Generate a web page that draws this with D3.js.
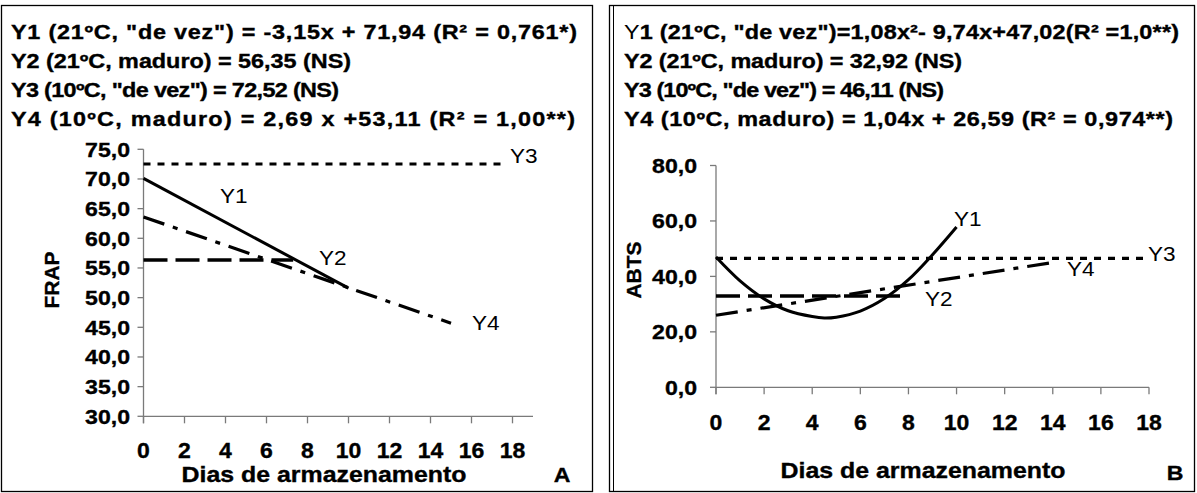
<!DOCTYPE html>
<html><head><meta charset="utf-8">
<script src="https://cdn.jsdelivr.net/npm/d3@7"></script>
<style>
html,body{margin:0;padding:0;background:#fff;}
svg{display:block;font-family:"Liberation Sans",Arial,sans-serif;}
</style></head>
<body>
<svg id="c" width="1197" height="493"></svg>
<script>
// ---------- data ----------
const xTicks = [0,2,4,6,8,10,12,14,16,18];
const frapTicks = [30,35,40,45,50,55,60,65,70,75];
const abtsTicks = [0,20,40,60,80];

const frapEquations = [
  'Y1 (21ºC, "de vez") = -3,15x + 71,94 (R² = 0,761*)',
  'Y2 (21ºC, maduro) = 56,35 (NS)',
  'Y3 (10ºC, "de vez") = 72,52 (NS)',
  'Y4 (10ºC, maduro) = 2,69 x +53,11 (R² = 1,00**)'
];
const abtsEquations = [
  'Y1 (21ºC, "de vez")=1,08x²- 9,74x+47,02(R² =1,0**)',
  'Y2 (21ºC, maduro) = 32,92 (NS)',
  'Y3 (10ºC, "de vez") = 46,11 (NS)',
  'Y4 (10ºC, maduro) = 1,04x + 26,59 (R² = 0,974**)'
];

// FRAP (panel A)
const frapY1Days = [0, 10],   frapY1 = [70.1, 51.6];
const frapY2Days = [0, 7.3],  frapY2 = [56.35, 56.35];
const frapY3Days = [0, 17.7], frapY3 = [72.52, 72.52];
const frapY4Days = [0, 15],   frapY4 = [63.6, 45.7];

// ABTS (panel B)
const abtsY1Days = [0, 1, 2, 3, 4, 4.5, 5, 6, 7, 8, 9, 10];
const abtsY1     = [47.0, 38.4, 31.9, 27.6, 25.5, 25.0, 25.3, 27.5, 32.0, 38.8, 47.8, 57.8];
const abtsY2Days = [0, 7.8],  abtsY2 = [32.92, 32.92];
const abtsY3Days = [0, 18],   abtsY3 = [46.5, 46.5];
const abtsY4Days = [0, 14],   abtsY4 = [26.0, 45.0];

// ---------- drawing ----------
const svg = d3.select("#c");

function txt(g, x, y, s, o) {
  o = o || {};
  const sx = o.sx || 1.12;
  const bold = o.weight !== "normal";
  const t = g.append("g").attr("transform", `translate(${x},${y}) scale(${sx},1)`)
    .append("text")
    .attr("font-size", o.size || 21)
    .attr("font-weight", bold ? "bold" : "normal")
    .attr("text-anchor", o.anchor || "start")
    .attr("fill", "#000")
    .attr("stroke", bold ? "#000" : "none")
    .attr("stroke-width", bold ? 0.35 : 0);
  if (o.thinFirst) {
    t.append("tspan").attr("font-weight", "normal").attr("stroke", "none").text(s[0]);
    t.append("tspan").text(s.slice(1));
  } else {
    t.text(s);
  }
  if (o.len) { t.attr("textLength", o.len / sx).attr("lengthAdjust", o.adjust || "spacing"); }
  return t;
}

function fmt(v){ return d3.format(".1f")(v).replace(".", ","); }

const styles = {
  Y1: {dash: null, w: 3},
  Y2: {dash: "24,8", w: 3.5},
  Y3: {dash: "7,7", w: 3.2},
  Y4: {dash: "22,9,5,9", w: 3.2}
};

function panel(cfg) {
  const g = svg.append("g");
  g.append("rect").attr("x", cfg.box[0]).attr("y", cfg.box[1]).attr("width", cfg.box[2]).attr("height", cfg.box[3])
    .attr("fill", "none").attr("stroke", "#000").attr("stroke-width", 1.3);
  cfg.eqs.forEach((e, i) => {
    txt(g, cfg.eqX, cfg.eqY0 + i * 29, e, {size: 19.5, sx: 1.2, len: cfg.eqLen[i], thinFirst: cfg.thinFirst && i === 0});
  });
  const x = d3.scaleLinear().domain(cfg.xDomain).range(cfg.xRange);
  const y = d3.scaleLinear().domain(cfg.yDomain).range(cfg.yRange);
  const ax = g.append("g").attr("stroke", "#7a7a7a").attr("stroke-width", 1.3);
  ax.append("line").attr("x1", x(cfg.xDomain[0])).attr("x2", x(cfg.xDomain[1]))
    .attr("y1", y(cfg.yDomain[0])).attr("y2", y(cfg.yDomain[0]));
  ax.append("line").attr("x1", x(0)).attr("x2", x(0))
    .attr("y1", y(cfg.yDomain[0]) + 7).attr("y2", y(cfg.yDomain[1]));
  cfg.yTicks.forEach(v => {
    ax.append("line").attr("x1", x(0) - 6).attr("x2", x(0)).attr("y1", y(v)).attr("y2", y(v));
    txt(g, cfg.yLabX, y(v) + 7.5, fmt(v), {size: 21, anchor: "end", sx: 1.1});
  });
  xTicks.forEach(v => {
    ax.append("line").attr("x1", x(v)).attr("x2", x(v)).attr("y1", y(cfg.yDomain[0])).attr("y2", y(cfg.yDomain[0]) + 7);
    txt(g, x(v), cfg.xLabY, String(v), {size: 21.5, anchor: "middle", sx: 1.07});
  });
  g.append("text").attr("transform", `translate(${cfg.yTitle[0]},${cfg.yTitle[1]}) rotate(-90)`)
    .attr("text-anchor", "middle").attr("font-size", 21).attr("font-weight", "bold")
    .attr("stroke", "#000").attr("stroke-width", 0.35).text(cfg.yTitleText);
  txt(g, cfg.xTitle[0], cfg.xTitle[1], "Dias de armazenamento", {size: 21.5, anchor: "middle", len: 285, adjust: "spacingAndGlyphs"});
  txt(g, cfg.letter[0], cfg.letter[1], cfg.letterText, {size: 21, anchor: "middle", sx: 1.1});
  cfg.series.forEach(s => {
    const pts = s.days.map((d, i) => [d, s.vals[i]]);
    const l = d3.line().curve(s.curve ? d3.curveCatmullRom : d3.curveLinear).x(d => x(d[0])).y(d => y(d[1]));
    g.append("path").attr("d", l(pts)).attr("fill", "none").attr("stroke", "#000")
      .attr("stroke-width", styles[s.name].w).attr("stroke-dasharray", styles[s.name].dash);
    txt(g, s.lab[0], s.lab[1], s.name, {size: 20.5, weight: "normal", sx: 1.1});
  });
  return {g, x, y};
}

panel({
  box: [1.5, 5.5, 591, 486],
  eqs: frapEquations, eqX: 11, eqY0: 39, eqLen: [566, 340, 328, 564],
  xDomain: [0, 19], xRange: [143.5, 533],
  yDomain: [30, 75], yRange: [416.3, 149.3],
  yTicks: frapTicks, yLabX: 130, xLabY: 458,
  yTitle: [59, 280], yTitleText: "FRAP",
  xTitle: [324, 482], letter: [562, 482], letterText: "A",
  series: [
    {name: "Y3", days: frapY3Days, vals: frapY3, lab: [510, 163]},
    {name: "Y1", days: frapY1Days, vals: frapY1, lab: [220, 203]},
    {name: "Y2", days: frapY2Days, vals: frapY2, lab: [319, 265]},
    {name: "Y4", days: frapY4Days, vals: frapY4, lab: [472, 330]}
  ]
});

panel({
  box: [609.5, 5.5, 585, 486],
  eqs: abtsEquations, eqX: 624, eqY0: 39, eqLen: [555, 338, 320, 549], thinFirst: true,
  xDomain: [0, 18], xRange: [716, 1149],
  yDomain: [0, 80], yRange: [387.3, 165.5],
  yTicks: abtsTicks, yLabX: 697, xLabY: 430,
  yTitle: [641, 270], yTitleText: "ABTS",
  xTitle: [923, 478], letter: [1175, 480], letterText: "B",
  series: [
    {name: "Y3", days: abtsY3Days, vals: abtsY3, lab: [1148, 261]},
    {name: "Y1", days: abtsY1Days, vals: abtsY1, lab: [954, 226], curve: true},
    {name: "Y2", days: abtsY2Days, vals: abtsY2, lab: [925, 306]},
    {name: "Y4", days: abtsY4Days, vals: abtsY4, lab: [1067, 276]}
  ]
});
svg.append("line").attr("x1", 613.5).attr("x2", 613.5).attr("y1", 5.5).attr("y2", 491.5)
  .attr("stroke", "#000").attr("stroke-width", 1);
</script>
</body></html>
